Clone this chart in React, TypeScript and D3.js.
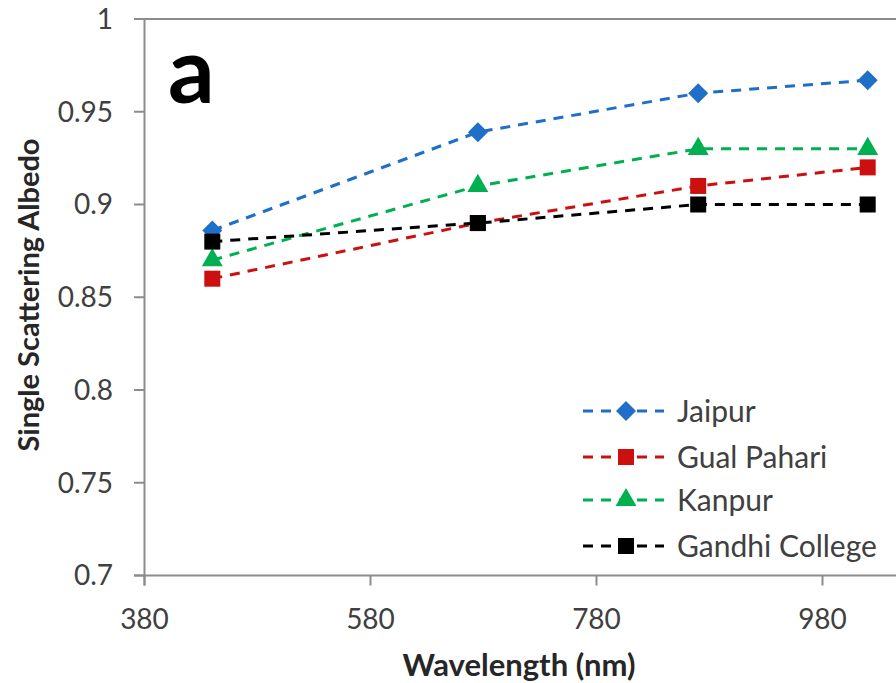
import React from "react";
import * as d3 from "d3";

const wavelengths = [440, 675, 870, 1020];
const jaipur = [0.886, 0.939, 0.96, 0.967];
const gualPahari = [0.86, 0.89, 0.91, 0.92];
const kanpur = [0.87, 0.91, 0.93, 0.93];
const gandhiCollege = [0.88, 0.89, 0.9, 0.9];
const seriesNames = ["Jaipur", "Gual Pahari", "Kanpur", "Gandhi College"];
const xTicks = [380, 580, 780, 980];
const yTicks = [0.7, 0.75, 0.8, 0.85, 0.9, 0.95, 1];

const colors = ["#1F6FC9", "#CC1010", "#00B050", "#000000"];
const shapes = ["diamond", "square", "triangle", "square"];

const W = 896;
const H = 683;
const FONT = "Lato, 'Open Sans', sans-serif";

function Marker({ shape, x, y, color }: { shape: string; x: number; y: number; color: string }) {
  if (shape === "diamond") {
    const s = d3.symbol(d3.symbolSquare, 200)();
    return <path d={s as string} transform={`translate(${x},${y}) rotate(45)`} fill={color} />;
  }
  if (shape === "triangle") {
    const s = d3.symbol(d3.symbolTriangle, 190)();
    return <path d={s as string} transform={`translate(${x},${y})`} fill={color} />;
  }
  return <rect x={x - 8} y={y - 8} width={16} height={16} fill={color} />;
}

export default function App() {
  const x = d3.scaleLinear().domain([380, 980]).range([144.5, 822.5]);
  const y = d3.scaleLinear().domain([0.7, 1]).range([575.5, 19]);
  const all = [jaipur, gualPahari, kanpur, gandhiCollege];
  const line = d3
    .line<number>()
    .x((_, i) => x(wavelengths[i]))
    .y((v) => y(v));
  const axisColor = "#8C8C8C";
  const legendY = [411, 457, 500, 546];

  return (
    <svg
      width={W}
      height={H}
      style={{ position: "absolute", left: 0, top: 0, background: "#fff" }}
      fontFamily={FONT}
    >
      <rect x={0} y={0} width={W} height={H} fill="#fff" />
      {/* top border */}
      <line x1={134} x2={W} y1={y(1)} y2={y(1)} stroke={axisColor} strokeWidth={2} />
      {/* y axis */}
      <line x1={x(380)} x2={x(380)} y1={y(1)} y2={y(0.7) + 10} stroke={axisColor} strokeWidth={2} />
      {yTicks.map((t) => (
        <g key={t}>
          <line x1={134} x2={x(380)} y1={y(t)} y2={y(t)} stroke={axisColor} strokeWidth={2} />
          <text x={113} y={y(t)} dy="0.35em" textAnchor="end" fontSize={28} fill="#404040">
            {String(t)}
          </text>
        </g>
      ))}
      {/* x axis */}
      <line x1={134} x2={W} y1={y(0.7)} y2={y(0.7)} stroke={axisColor} strokeWidth={2} />
      {xTicks.map((t) => (
        <g key={t}>
          <line x1={x(t)} x2={x(t)} y1={y(0.7)} y2={y(0.7) + 10} stroke={axisColor} strokeWidth={2} />
          <text x={x(t)} y={619} dy="0.35em" textAnchor="middle" fontSize={28} fill="#404040">
            {t}
          </text>
        </g>
      ))}
      <text x={519} y={665} dy="0.35em" textAnchor="middle" fontSize={31} fontWeight="bold" fill="#262626">
        Wavelength (nm)
      </text>
      <text
        transform={`translate(29,${295}) rotate(-90)`}
        textAnchor="middle"
        dy="0.35em"
        fontSize={29}
        fontWeight="bold"
        fill="#262626"
      >
        Single Scattering Albedo
      </text>
      <text x={168} y={103} fontSize={92} fontWeight="bold" fill="#000">
        a
      </text>
      {all.map((vals, si) => (
        <g key={si}>
          <path
            d={line(vals) as string}
            fill="none"
            stroke={colors[si]}
            strokeWidth={3}
            strokeDasharray="10,8"
          />
          {vals.map((v, i) => (
            <Marker key={i} shape={shapes[si]} x={x(wavelengths[i])} y={y(v)} color={colors[si]} />
          ))}
        </g>
      ))}
      {seriesNames.map((name, si) => (
        <g key={name}>
          <line
            x1={583}
            x2={664}
            y1={legendY[si]}
            y2={legendY[si]}
            stroke={colors[si]}
            strokeWidth={3}
            strokeDasharray="10,8"
          />
          <Marker shape={shapes[si]} x={626} y={legendY[si]} color={colors[si]} />
          <text x={677} y={legendY[si]} dy="0.35em" fontSize={30} fill="#404040">
            {name}
          </text>
        </g>
      ))}
    </svg>
  );
}
